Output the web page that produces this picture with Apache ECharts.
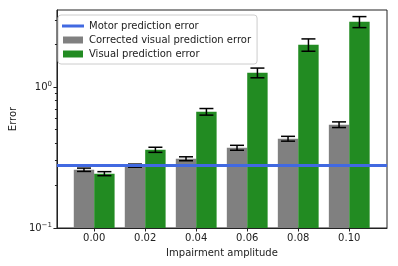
<!DOCTYPE html>
<html>
<head>
<meta charset="utf-8">
<script src="https://cdn.jsdelivr.net/npm/echarts@6/dist/echarts.min.js"></script>
<style>html,body{margin:0;padding:0;background:#fff}#c{width:398px;height:266px}</style>
</head>
<body>
<div id="c"></div>
<script>
const categories = ['0.00', '0.02', '0.04', '0.06', '0.08', '0.10'];
const corrected = [0.259, 0.277, 0.31, 0.371, 0.43, 0.541];
const correctedErr = [0.007, 0.007, 0.01, 0.015, 0.017, 0.025];
const visual = [0.243, 0.359, 0.668, 1.263, 1.995, 2.90];
const visualErr = [0.008, 0.015, 0.036, 0.1, 0.2, 0.26];
const motorError = 0.284;
const majorTicks = [0.1, 1];
const minorTicks = [0.2, 0.3, 0.4, 0.5, 0.6, 0.7, 0.8, 0.9, 2, 3];

const FONT = 'DejaVu Sans';
const TXT = '#222';
const BAR_W = 0.4;

function barRender(offset) {
  return function (params, api) {
    const i = api.value(0), v = api.value(1);
    const p1 = api.coord([i + offset, v]);
    const p2 = api.coord([i + offset + BAR_W, 0.1]);
    return {
      type: 'rect',
      shape: { x: p1[0], y: p1[1], width: p2[0] - p1[0], height: p2[1] - p1[1] },
      style: { fill: api.visual('color') }
    };
  };
}
function errRender(offset) {
  return function (params, api) {
    const i = api.value(0), v = api.value(1), e = api.value(2);
    const x = i + offset + BAR_W / 2;
    const hi = api.coord([x, v + e]);
    const lo = api.coord([x, v - e]);
    const cap = 7;
    const st = { stroke: '#000', lineWidth: 1.5 };
    return {
      type: 'group',
      children: [
        { type: 'line', shape: { x1: hi[0], y1: hi[1], x2: lo[0], y2: lo[1] }, style: st },
        { type: 'line', shape: { x1: hi[0] - cap, y1: hi[1], x2: hi[0] + cap, y2: hi[1] }, style: st },
        { type: 'line', shape: { x1: lo[0] - cap, y1: lo[1], x2: lo[0] + cap, y2: lo[1] }, style: st }
      ]
    };
  };
}

const chart = echarts.init(document.getElementById('c'), null, { renderer: 'canvas' });
const option = {
  animation: false,
  textStyle: { fontFamily: FONT },
  grid: { left: 53, right: 11, top: 10, bottom: 38, show: true, borderColor: '#222', borderWidth: 1, backgroundColor: 'transparent' },
  legend: {
    orient: 'vertical', left: 58, top: 15,
    padding: [6, 6, 5, 4],
    itemWidth: 22, itemHeight: 7, itemGap: 4,
    borderColor: '#ccc', borderWidth: 1, borderRadius: 3,
    backgroundColor: 'rgba(255,255,255,0.8)',
    textStyle: { fontSize: 10, color: TXT, fontFamily: FONT },
    data: [
      { name: 'Motor prediction error', icon: 'path://M0,0H22V3H0Z' },
      { name: 'Corrected visual prediction error', icon: 'path://M0,0H20V7H0Z' },
      { name: 'Visual prediction error', icon: 'path://M0,0H20V7H0Z' }
    ]
  },
  xAxis: {
    type: 'value', min: -0.73, max: 5.74,
    name: 'Impairment amplitude', nameLocation: 'middle', nameGap: 20,
    nameTextStyle: { fontSize: 10, color: TXT, fontFamily: FONT },
    axisLine: { show: true, onZero: false, lineStyle: { color: '#222', width: 1 } },
    axisTick: { show: true, length: 3.5, lineStyle: { color: '#222' }, customValues: [0, 1, 2, 3, 4, 5] },
    axisLabel: { fontSize: 10, color: TXT, margin: 5, customValues: [0, 1, 2, 3, 4, 5], formatter: v => categories[Math.round(v)] },
    splitLine: { show: false }
  },
  yAxis: [
    {
      type: 'log', logBase: 10, min: 0.1, max: 3.52,
      name: 'Error', nameLocation: 'middle', nameGap: 32,
      nameTextStyle: { fontSize: 10, color: TXT, fontFamily: FONT },
      axisLine: { show: true, onZero: false, lineStyle: { color: '#222', width: 1 } },
      axisTick: { show: true, length: 3.5, lineStyle: { color: '#222' }, customValues: majorTicks },
      axisLabel: {
        margin: 5, customValues: majorTicks, color: TXT,
        formatter: v => (v < 0.5 ? '{b|10}{s|\u22121}' : '{b|10}{s|0}'),
        rich: {
          b: { fontSize: 10, color: TXT, fontFamily: FONT },
          s: { fontSize: 7, color: TXT, fontFamily: FONT, padding: [0, 0, 6, 0] }
        }
      },
      splitLine: { show: false }
    },
    {
      type: 'log', logBase: 10, min: 0.1, max: 3.52, position: 'left',
      axisLine: { show: false, onZero: false },
      axisTick: { show: true, length: 2, lineStyle: { color: '#222' }, customValues: minorTicks },
      axisLabel: { show: false },
      splitLine: { show: false }
    }
  ],
  series: [
    {
      name: 'Corrected visual prediction error', type: 'custom', color: '#808080', z: 2,
      renderItem: barRender(-BAR_W),
      data: corrected.map((v, i) => [i, v])
    },
    {
      name: 'Visual prediction error', type: 'custom', color: '#228B22', z: 2,
      renderItem: barRender(0),
      data: visual.map((v, i) => [i, v])
    },
    {
      name: 'Corrected visual prediction error', type: 'custom', color: '#808080', z: 3,
      renderItem: errRender(-BAR_W),
      data: corrected.map((v, i) => [i, v, correctedErr[i]])
    },
    {
      name: 'Visual prediction error', type: 'custom', color: '#228B22', z: 3,
      renderItem: errRender(0),
      data: visual.map((v, i) => [i, v, visualErr[i]])
    },
    {
      name: 'Motor prediction error', type: 'line', color: '#4169E1', z: 5,
      data: [], showSymbol: false,
      markLine: {
        silent: true, symbol: ['none', 'none'], label: { show: false },
        lineStyle: { color: '#4169E1', width: 3, type: 'solid' },
        data: [{ yAxis: motorError }]
      }
    }
  ]
};
chart.setOption(option);
</script>
</body>
</html>
